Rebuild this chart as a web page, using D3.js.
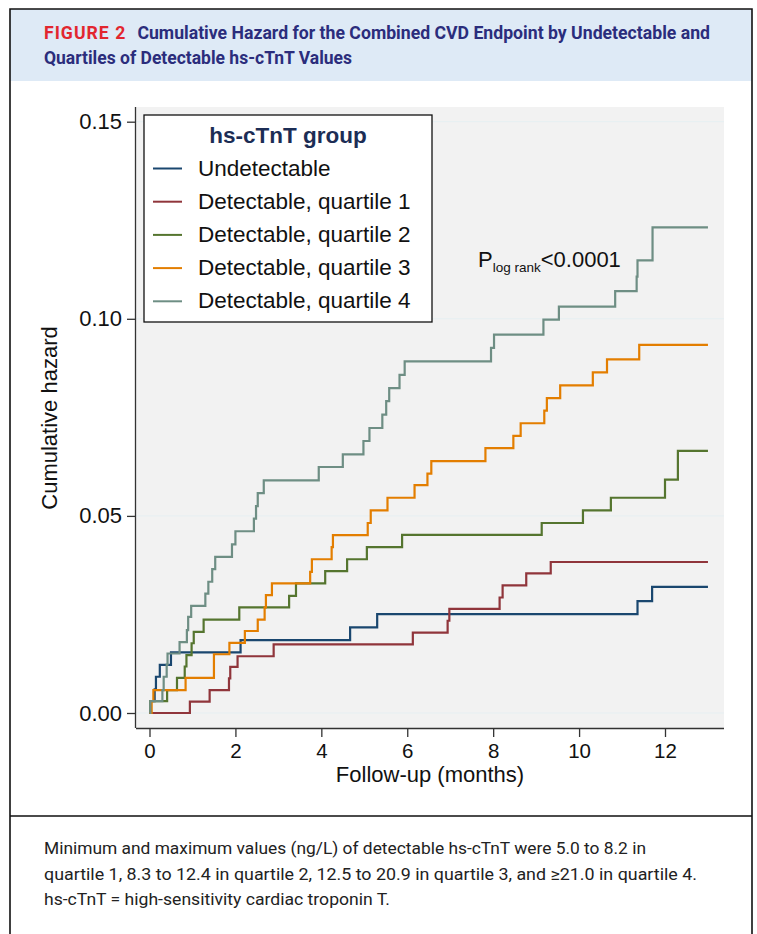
<!DOCTYPE html>
<html>
<head>
<meta charset="utf-8">
<script src="https://cdn.jsdelivr.net/npm/d3@7"></script>
<style>
  body { margin: 0; background: #fff; }
  svg { display: block; }
</style>
</head>
<body>
<svg id="chart"></svg>
<script>
// Follow-up times (months) and cumulative hazard at each step, per hs-cTnT group
const undetTime = [0, 0.03, 0.12, 0.15, 0.24, 0.50, 2.12, 4.67, 5.30, 11.36, 11.70];
const undetHaz  = [0, 0.003, 0.006, 0.0092, 0.0122, 0.0154, 0.0185, 0.0217, 0.0251, 0.0284, 0.032];

const q1Time = [0, 0.94, 1.40, 1.85, 1.88, 2.05, 2.89, 6.13, 6.94, 6.98, 8.15, 8.22, 8.77, 9.34];
const q1Haz  = [0, 0.0029, 0.0058, 0.0088, 0.0117, 0.0144, 0.0174, 0.0204, 0.0234, 0.0264, 0.0293, 0.0324, 0.0354, 0.0383];

const q2Time = [0, 0.02, 0.41, 0.64, 0.82, 0.86, 0.98, 1.03, 1.26, 2.09, 3.25, 3.41, 4.09, 4.60, 5.06, 5.88, 9.13, 10.09, 10.74, 12.0, 12.3];
const q2Haz  = [0, 0.003, 0.0058, 0.0089, 0.0118, 0.0147, 0.0177, 0.0206, 0.0237, 0.0268, 0.0297, 0.0329, 0.036, 0.039, 0.0421, 0.0452, 0.0482, 0.0514, 0.0546, 0.0592, 0.0665];

const q3Time = [0, 0.05, 0.09, 0.84, 1.50, 1.86, 2.22, 2.52, 2.68, 2.71, 2.85, 3.74, 3.78, 4.24, 4.27, 5.08, 5.15, 5.54, 6.17, 6.47, 6.56, 7.82, 8.47, 8.64, 9.19, 9.25, 9.56, 10.32, 10.65, 11.40];
const q3Haz  = [0, 0.003, 0.0058, 0.0089, 0.0149, 0.0178, 0.0208, 0.0237, 0.0268, 0.0299, 0.0329, 0.0358, 0.039, 0.0421, 0.0451, 0.0482, 0.0514, 0.0546, 0.0578, 0.0607, 0.0639, 0.0672, 0.0703, 0.0735, 0.0767, 0.0799, 0.0831, 0.0864, 0.0897, 0.0934];

const q4Time = [0, 0.02, 0.30, 0.33, 0.40, 0.42, 0.70, 0.87, 0.90, 0.97, 1.30, 1.37, 1.46, 1.53, 1.92, 2.00, 2.43, 2.48, 2.52, 2.66, 3.94, 4.50, 4.98, 5.12, 5.42, 5.51, 5.58, 5.82, 5.94, 7.95, 8.02, 9.17, 9.53, 10.84, 11.34, 11.36, 11.71];
const q4Haz  = [0, 0.003, 0.0058, 0.0092, 0.0123, 0.0151, 0.018, 0.021, 0.0244, 0.0272, 0.0303, 0.0333, 0.0365, 0.0396, 0.0428, 0.0461, 0.0493, 0.0525, 0.0558, 0.059, 0.0624, 0.0656, 0.069, 0.0723, 0.0757, 0.0791, 0.0824, 0.0858, 0.0892, 0.0926, 0.096, 0.0998, 0.1031, 0.107, 0.1107, 0.1148, 0.1232];

const maxFollowUp = 13;
const groupNames = ["Undetectable", "Detectable, quartile 1", "Detectable, quartile 2", "Detectable, quartile 3", "Detectable, quartile 4"];
const groupColors = ["#1a476f", "#90353b", "#55752f", "#e37e00", "#6e8e84"];
const xTicks = [0, 2, 4, 6, 8, 10, 12];
const yTicks = [0, 0.05, 0.10, 0.15];

const titleLine1 = "Cumulative Hazard for the Combined CVD Endpoint by Undetectable and";
const titleLine2 = "Quartiles of Detectable hs-cTnT Values";
const noteLines = [
  "Minimum and maximum values (ng/L) of detectable hs-cTnT were 5.0 to 8.2 in",
  "quartile 1, 8.3 to 12.4 in quartile 2, 12.5 to 20.9 in quartile 3, and \u226521.0 in quartile 4.",
  "hs-cTnT = high-sensitivity cardiac troponin T."
];

const width = 757, height = 934;
const svg = d3.select("#chart").attr("width", width).attr("height", height);

// Figure frame and header
svg.append("rect").attr("x", 10).attr("y", 9).attr("width", 742).attr("height", 72)
  .attr("fill", "#deeaf6");
svg.append("path")
  .attr("d", "M10,940 V9 H752 V940 M10,816 H752")
  .attr("fill", "none").attr("stroke", "#111").attr("stroke-width", 1.6);

const header = svg.append("g").attr("font-family", "Roboto, 'Liberation Sans', sans-serif").attr("font-weight", "bold");
const h1 = header.append("text").attr("x", 44).attr("y", 39).attr("font-size", 17.5)
  .attr("textLength", 666).attr("lengthAdjust", "spacingAndGlyphs");
h1.append("tspan").attr("fill", "#e2262f").attr("letter-spacing", 1).text("FIGURE 2");
h1.append("tspan").attr("fill", "#2b2d7c").attr("dx", 11).text(titleLine1);
header.append("text").attr("x", 44).attr("y", 64).attr("font-size", 17.5)
  .attr("fill", "#2b2d7c").attr("textLength", 308).attr("lengthAdjust", "spacingAndGlyphs")
  .text(titleLine2);

// Notes under the chart
const noteLengths = [602, 653, 346];
svg.append("g").attr("font-family", "Roboto, 'Liberation Sans', sans-serif").attr("font-size", 17)
  .attr("fill", "#222")
  .selectAll("text").data(noteLines).join("text")
  .attr("x", 44).attr("y", (d, i) => 854 + i * 25.5)
  .attr("textLength", (d, i) => noteLengths[i]).attr("lengthAdjust", "spacingAndGlyphs")
  .text(d => d);

// Plot region
const plot = { left: 136, right: 724, top: 107, bottom: 728 };
const x = d3.scaleLinear().domain([0, 12]).range([149.5, 665]);
const y = d3.scaleLinear().domain([0, 0.15]).range([713, 121.7]);

svg.append("rect").attr("x", plot.left).attr("y", plot.top)
  .attr("width", plot.right - plot.left).attr("height", plot.bottom - plot.top)
  .attr("fill", "#f2f2f2");

svg.append("g").selectAll("line").data(yTicks).join("line")
  .attr("x1", plot.left).attr("x2", plot.right)
  .attr("y1", d => y(d)).attr("y2", d => y(d))
  .attr("stroke", "#e6eff2").attr("stroke-width", 1);

const font = "'Liberation Sans', Arial, sans-serif";

// Axes
const xAxis = svg.append("g").attr("transform", `translate(0,${plot.bottom})`)
  .call(d3.axisBottom(x).tickValues(xTicks).tickSize(9).tickPadding(6).tickSizeOuter(0));
xAxis.select(".domain").attr("d", `M${plot.left},0.5H${plot.right}`);
xAxis.selectAll("text").attr("font-family", font).attr("font-size", 20.5).attr("fill", "#111");
xAxis.selectAll("line, .domain").attr("stroke", "#333").attr("stroke-width", 1.3);

const yAxis = svg.append("g").attr("transform", `translate(${plot.left},0)`)
  .call(d3.axisLeft(y).tickValues(yTicks).tickFormat(d3.format(".2f")).tickSize(9).tickPadding(5).tickSizeOuter(0));
yAxis.select(".domain").attr("d", `M-0.5,${plot.top}V${plot.bottom}`);
yAxis.selectAll("text").attr("font-family", font).attr("font-size", 22).attr("fill", "#111");
yAxis.selectAll("line, .domain").attr("stroke", "#333").attr("stroke-width", 1.3);

svg.append("text").attr("x", 430).attr("y", 782).attr("text-anchor", "middle")
  .attr("font-family", font).attr("font-size", 22).attr("fill", "#111")
  .text("Follow-up (months)");
svg.append("text").attr("transform", "translate(57,418) rotate(-90)").attr("text-anchor", "middle")
  .attr("font-family", font).attr("font-size", 22).attr("fill", "#111")
  .text("Cumulative hazard");

// Step curves
const series = [
  [undetTime, undetHaz], [q1Time, q1Haz], [q2Time, q2Haz], [q3Time, q3Haz], [q4Time, q4Haz]
].map(([t, h], i) => {
  const pts = t.map((ti, j) => [ti, h[j]]);
  pts.push([maxFollowUp, h[h.length - 1]]);
  return { name: groupNames[i], color: groupColors[i], pts };
});

const line = d3.line().x(d => x(d[0])).y(d => y(d[1])).curve(d3.curveStepAfter);
svg.append("g").attr("fill", "none").attr("stroke-width", 2.2)
  .selectAll("path").data(series).join("path")
  .attr("stroke", d => d.color).attr("d", d => line(d.pts));

// Legend
const legend = svg.append("g");
legend.append("rect").attr("x", 144).attr("y", 115).attr("width", 288).attr("height", 207)
  .attr("fill", "#fff").attr("stroke", "#111").attr("stroke-width", 1.3);
legend.append("text").attr("x", 288).attr("y", 143).attr("text-anchor", "middle")
  .attr("font-family", font).attr("font-weight", "bold").attr("font-size", 22.5)
  .attr("fill", "#1c2d55").text("hs-cTnT group");
const items = legend.selectAll("g.item").data(series).join("g")
  .attr("transform", (d, i) => `translate(0,${175.5 + i * 33.2})`);
items.append("line").attr("x1", 153).attr("x2", 182).attr("y1", -7).attr("y2", -7)
  .attr("stroke", d => d.color).attr("stroke-width", 2);
items.append("text").attr("x", 198).attr("font-family", font).attr("font-size", 22.5)
  .attr("fill", "#111").text(d => d.name);

// Log-rank annotation
const p = svg.append("text").attr("x", 478).attr("y", 267).attr("font-family", font)
  .attr("font-size", 22).attr("fill", "#111");
p.append("tspan").text("P");
p.append("tspan").attr("font-size", 13.5).attr("dy", 5).text("log rank");
p.append("tspan").attr("dy", -5).text("<0.0001");
</script>
</body>
</html>
